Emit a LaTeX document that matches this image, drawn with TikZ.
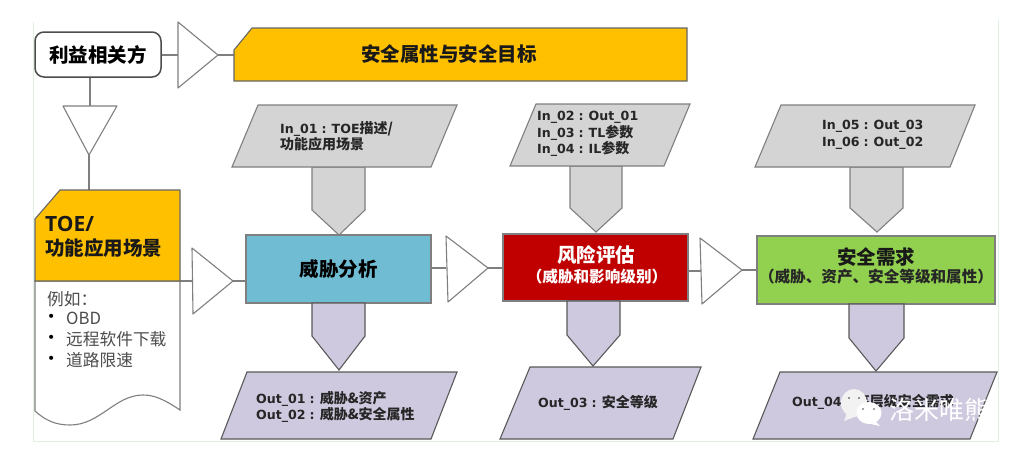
\documentclass[tikz,border=0pt]{standalone}
\usepackage{fontspec}
\setmainfont{Open Sans}
\newfontfamily\cjk{Noto Sans CJK SC}
\newfontfamily\latf{DejaVu Sans}
\definecolor{edgegray}{HTML}{7F7F7F}
\definecolor{gold}{HTML}{FFC000}
\definecolor{inputgray}{HTML}{D4D4D4}
\definecolor{outlilac}{HTML}{CFC9DF}
\definecolor{tealbox}{HTML}{70BCD3}
\definecolor{redbox}{HTML}{C00000}
\definecolor{greenbox}{HTML}{92D050}
\definecolor{framegreen}{HTML}{DFF1E2}
\tikzset{
  link/.style={draw=edgegray,line width=1.1pt},
  tri/.style={draw=edgegray,fill=white,line width=1.1pt,line join=round},
  banner/.style={draw=edgegray!80!black,fill=gold,line width=1.1pt},
  inshape/.style={draw=edgegray,fill=inputgray,line width=1.1pt},
  outshape/.style={draw=edgegray!70!black,fill=outlilac,line width=1.1pt},
  titlelabel/.style={font=\cjk\bfseries\fontsize{19.5}{24}\selectfont,text=black!90,align=center,inner sep=0pt},
  smalllabel/.style={font=\cjk\bfseries\fontsize{14}{16.5}\selectfont,text=black!85,align=left,inner sep=0pt},
  sublabel/.style={font=\cjk\bfseries\fontsize{15.6}{18}\selectfont,align=center,inner sep=0pt},
  plainlabel/.style={font=\cjk\fontsize{16.7}{21}\selectfont,text=black!70,align=left,anchor=north west,inner sep=0pt},
  processbox/.style={draw=edgegray,line width=1.1pt,inner sep=0pt,align=center,font=\cjk\bfseries\fontsize{19.5}{24}\selectfont},
}
\newcommand{\lat}[1]{{\latf\bfseries\fontsize{12.6}{16.5}\selectfont #1}}
\newcommand{\sep}{\hspace{4pt}:\hspace{5pt}}
\begin{document}
\begin{tikzpicture}[x=1pt,y=-1pt]
\useasboundingbox (0,0) rectangle (1024,456);
% frame
\draw[framegreen,line width=1pt] (33,22) -- (33,441) -- (998,441) -- (998,20);

% process and stakeholder nodes
\node[processbox,rounded corners=9pt,draw=black!70,line width=1.5pt,fill=white,minimum width=126pt,minimum height=45pt] (stake) at (98,54.5) {利益相关方};
\node[processbox,fill=tealbox,minimum width=185pt,minimum height=68pt] (threat) at (338.5,269) {威胁分析};
\node[processbox,fill=redbox,text=white,minimum width=185pt,minimum height=67pt] (risk) at (595.5,267.5) {};
\node[titlelabel,text=white] (risktitle) at (596,255) {风险评估};
\node[sublabel,text=white] (risksub) at (597,277) {（威胁和影响级别）};
\node[processbox,fill=greenbox,minimum width=238pt,minimum height=68pt] (req) at (876,270) {};
\node[titlelabel] (reqtitle) at (876,257) {安全需求};
\node[sublabel,text=black!85] (reqsub) at (876,277) {（威胁、资产、安全等级和属性）};

% anchors for triangles
\coordinate (t1w) at (178,55); \coordinate (t1e) at (218,55);
\coordinate (t2n) at (90,106); \coordinate (t2s) at (89,155);
\coordinate (t3w) at (192,281); \coordinate (t3e) at (233,281);
\coordinate (t4w) at (446,268); \coordinate (t4e) at (488,268);
\coordinate (t5w) at (701,271); \coordinate (t5e) at (742,270);
\coordinate (bannerw) at (234,55);
\coordinate (toen) at (89,190);
\coordinate (toee) at (180,281);

% connectors
\draw[link] (stake.east |- t1w) -- (t1w);
\draw[link] (t1e) -- (bannerw);
\draw[link] (stake.south -| t2n) -- (t2n);
\draw[link] (t2s) -- (toen);
\draw[link] (toee) -- (t3w);
\draw[link] (t3e) -- (threat.west |- t3e);
\draw[link] (threat.east |- t4w) -- (t4w);
\draw[link] (t4e) -- (risk.west |- t4e);
\draw[link] (risk.east |- t5w) -- (t5w);
\draw[link] (t5e) -- (req.west |- t5e);

% triangles
\draw[tri] (178,22) -- (178,88) -- (218,55) -- cycle;
\draw[tri] (63,106) -- (117,106) -- (89,155) -- cycle;
\draw[tri] (192,248) -- (193,314) -- (233,281) -- cycle;
\draw[tri] (446,236) -- (448,302) -- (488,268) -- cycle;
\draw[tri] (700,238) -- (702,304) -- (742,270) -- cycle;

% banner
\draw[banner] (234,50) -- (252,28) -- (687,28) -- (687,81) -- (234,81) -- cycle;
\node[titlelabel] (bannertext) at (449,54) {安全属性与安全目标};

% TOE document
\draw[draw=edgegray,fill=white,line width=1.1pt] (35,281) -- (180,281) -- (180,410)
  .. controls (165,400) and (155,395) .. (143,395)
  .. controls (115,395) and (100,425) .. (70,425)
  .. controls (55,425) and (45,420) .. (35,411) -- cycle;
\draw[banner] (35,219) -- (60,190) -- (180,190) -- (180,281) -- (35,281) -- cycle;
\node[titlelabel,align=left,anchor=north west] (toetext) at (45,216) {{\rmfamily\bfseries\fontsize{21}{24}\selectfont TOE/}\\功能应用场景};
\node[plainlabel] (example) at (47,291) {例如：};
\node[plainlabel] (examples) at (66,312) {OBD\\远程软件下载\\道路限速};
\node[font=\latf\fontsize{14}{21}\selectfont,text=black,align=left,anchor=north west,inner sep=0pt] (bullets) at (47,314) {•\\•\\•};

% input arrows
\draw[inshape] (312,167) -- (312,210) -- (339,235) -- (365,210) -- (365,167) -- cycle;
\draw[inshape] (570,166) -- (570,208) -- (596,232) -- (622,208) -- (622,166) -- cycle;
\draw[inshape] (850,167) -- (850,208) -- (877,232) -- (903,208) -- (903,167) -- cycle;
% output arrows
\draw[outshape] (312,303) -- (312,336) -- (339,370) -- (365,336) -- (365,303) -- cycle;
\draw[outshape] (567,301) -- (567,335) -- (593,366) -- (620,335) -- (620,301) -- cycle;
\draw[outshape] (849,304) -- (849,338) -- (876,371) -- (904,338) -- (904,304) -- cycle;

% input parallelograms
\draw[inshape] (232,167) -- (258,105) -- (457,105) -- (431,167) -- cycle;
\draw[inshape] (510,166) -- (536,104) -- (690,104) -- (664,166) -- cycle;
\draw[inshape] (755,167) -- (781,105) -- (975,105) -- (950,167) -- cycle;
\node[smalllabel,anchor=west] (in1) at (280,136) {\lat{In\_01\sep TOE}描述/\\功能应用场景};
\node[smalllabel,anchor=west] (in2) at (537,134) {\lat{In\_02\sep Out\_01}\\\lat{In\_03\sep TL}参数\\\lat{In\_04\sep IL}参数};
\node[smalllabel,anchor=west] (in3) at (822,135) {\lat{In\_05\sep Out\_03}\\\lat{In\_06\sep Out\_02}};

% output parallelograms
\draw[outshape] (221,439) -- (247,372) -- (457,372) -- (431,439) -- cycle;
\draw[outshape] (500,439) -- (530,367) -- (701,367) -- (673,439) -- cycle;
\draw[outshape] (753,439) -- (780,372) -- (997,372) -- (970,439) -- cycle;
\node[smalllabel,anchor=west] (out1) at (256,407) {\lat{Out\_01\sep}威胁\&资产\\\lat{Out\_02\sep}威胁\&安全属性};
\node[smalllabel,anchor=west] (out2) at (538,403) {\lat{Out\_03\sep}安全等级};
\node[smalllabel,anchor=west] (out3) at (792,402) {\lat{Out\_04\sep}高层级安全需求};

% watermark
\fill[white!95!black] (854,403) ellipse (13pt and 14pt);
\fill[white!95!black] (847,413) -- (844,421) -- (857,416) -- cycle;
\fill[black!80] (849,398) circle (0.8pt) (859,398) circle (0.8pt);
\fill[white] (869,413) ellipse (12.5pt and 11pt);
\fill[white] (874,420) -- (880,426) -- (866,423) -- cycle;
\fill[black!70] (863,409) circle (0.9pt) (874,409) circle (0.9pt);
\node[font=\cjk\fontsize{25}{26}\selectfont,text=white,inner sep=0pt,anchor=west] (mark) at (889,410) {洛米唯熊};
\end{tikzpicture}
\end{document}
